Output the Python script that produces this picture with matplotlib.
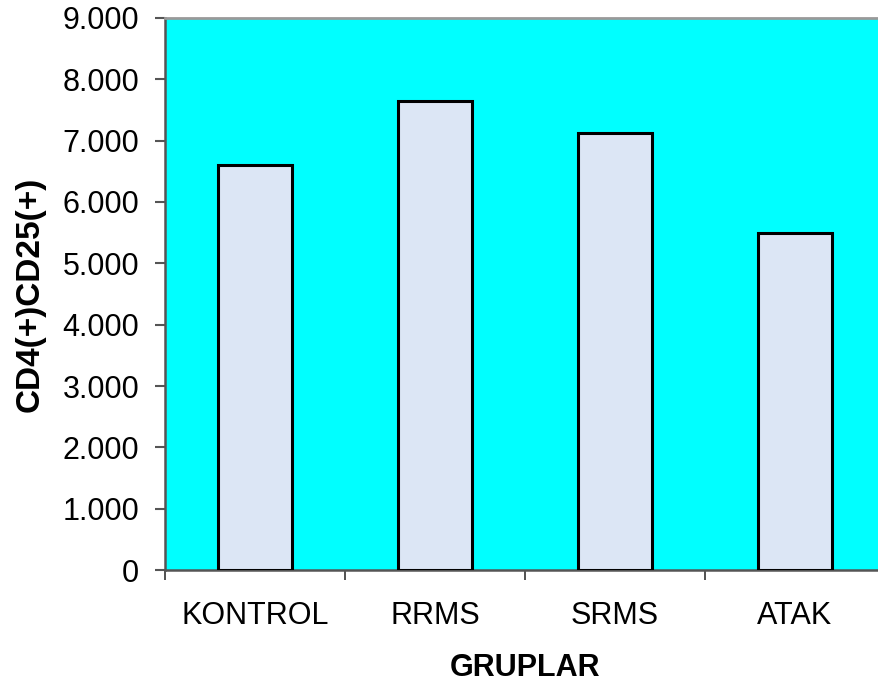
import matplotlib
matplotlib.use("Agg")
import matplotlib.pyplot as plt
import numpy as np
from matplotlib.ticker import FixedLocator

# Group means of CD4(+)CD25(+) cells
groups = ["KONTROL", "RRMS", "SRMS", "ATAK"]
values = [6.60, 7.65, 7.12, 5.50]

y_ticks = [0, 1, 2, 3, 4, 5, 6, 7, 8, 9]
y_tick_labels = ["0", "1.000", "2.000", "3.000", "4.000", "5.000",
                 "6.000", "7.000", "8.000", "9.000"]

plt.rcParams["font.family"] = ["Liberation Sans", "DejaVu Sans"]

fig = plt.figure(figsize=(8.79, 6.91), dpi=100)
ax = fig.add_axes([165 / 879, 121 / 691, 720 / 879, 552 / 691])
ax.set_facecolor("#00FFFF")

x = np.arange(len(groups))
ax.bar(x, values, width=0.41, color="#DCE6F5", edgecolor="black",
       linewidth=2.2, zorder=3)

ax.set_xlim(-0.5, len(groups) - 0.5)
ax.set_ylim(0, 9)

ax.set_yticks(y_ticks)
ax.set_yticklabels(y_tick_labels)
ax.set_xticks(x)
ax.set_xticklabels(groups)
ax.xaxis.set_minor_locator(FixedLocator(np.arange(-0.5, len(groups), 1.0)))

ax.tick_params(axis="y", which="major", direction="out", length=7.5,
               width=1.5, color="#555555", labelsize=22, pad=11)
ax.tick_params(axis="x", which="major", length=0, labelsize=22, pad=22)
ax.tick_params(axis="x", which="minor", direction="out", length=7,
               width=1.2, color="#333333")

for side in ("left", "bottom"):
    ax.spines[side].set_color("#555555")
    ax.spines[side].set_linewidth(1.8)
ax.spines["top"].set_color("#999999")
ax.spines["top"].set_linewidth(2)
ax.spines["right"].set_visible(False)

ax.set_xlabel("GRUPLAR", fontsize=22, fontweight="bold", labelpad=16)
ax.set_ylabel("CD4(+)CD25(+)", fontsize=24, fontweight="bold", labelpad=12)

fig.savefig("out.png", dpi=100, facecolor="white")
